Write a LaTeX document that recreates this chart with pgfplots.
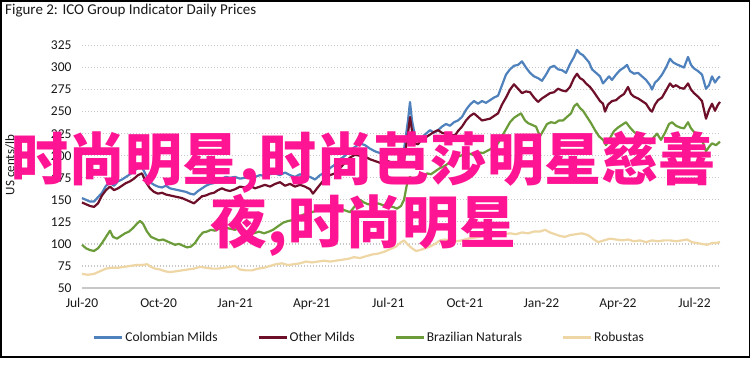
\documentclass[border=0pt]{standalone}
\usepackage{fontspec}
\setmainfont{Carlito}
\newfontfamily\cjk{Noto Sans CJK SC}
\usepackage{pgfplots}
\usepackage{pgfplotstable}
\pgfplotsset{compat=1.18}
\definecolor{cmild}{RGB}{79,129,189}
\definecolor{omild}{RGB}{110,15,42}
\definecolor{bnat}{RGB}{108,156,58}
\definecolor{rob}{RGB}{238,214,165}
\definecolor{wmpink}{RGB}{255,20,147}
\definecolor{gridc}{RGB}{200,200,200}
% t: time index (Jul-20 = 82, one quarter = 76.56), v: US cents/lb
\pgfplotstableread{
t v
82 152
86 150
90 148
94 148
98 153
102 158
106 166
110 169
114 166
118 171
122 173
126 176
130 179
134 183
138 186
142 187
146 178
150 170
154 167
158 165
162 164
166 166
170 163
174 162
178 161
182 160
186 159
190 157
194 156
198 160
202 163
206 166
210 168
214 169
218 172
222 174
226 176
230 175
235 176
240 174
245 175
250 177
255 176
260 178
265 177
270 179
275 180
280 178
285 181
290 178
295 176
300 179
305 177
310 176
315 173
320 178
325 181
330 186
335 190
340 196
345 200
350 206
355 210
360 214
365 212
370 208
375 205
380 203
385 206
390 204
395 203
400 205
404 207
408 240
410 261
412 240
415 222
418 218
422 221
426 225
430 229
434 226
438 229
442 233
446 236
450 234
454 238
458 240
462 244
466 252
470 258
474 262
478 259
482 262
486 260
490 263
494 266
498 268
502 280
506 292
510 298
514 302
518 303
522 307
526 300
530 294
534 290
538 288
542 285
546 292
550 300
554 302
558 298
562 297
566 294
570 304
574 312
577 320
580 316
583 314
586 310
589 306
592 298
596 294
600 290
603 282
606 286
609 290
612 286
616 292
620 297
624 300
627 303
630 296
634 293
638 294
642 290
646 286
650 280
652 275
655 283
658 286
662 292
666 300
670 310
673 306
676 304
680 302
684 300
688 312
691 303
694 299
698 296
702 292
706 276
709 280
712 290
715 283
718 288
720 290
}\colombian
\pgfplotstableread{
t v
82 147
86 145
90 143
94 142
98 146
102 155
106 161
110 165
114 161
118 163
122 166
126 169
130 171
134 174
138 178
142 180
146 170
150 163
154 159
158 157
162 158
166 156
170 155
174 154
178 153
182 152
186 150
190 148
194 146
198 150
202 154
206 155
210 157
214 158
218 161
222 163
226 161
230 160
235 162
240 165
245 164
250 166
255 163
260 165
265 167
270 165
275 168
280 170
285 166
290 168
295 165
300 167
305 165
310 162
313 157
317 163
322 170
326 176
330 178
335 180
340 186
345 192
350 198
355 201
360 200
365 199
370 196
375 194
380 192
385 195
390 193
395 191
400 193
404 195
408 225
410 244
412 228
415 214
418 213
422 219
426 221
430 224
434 227
438 229
442 226
446 225
450 224
455 223
458 228
462 233
466 240
470 245
474 248
478 244
482 240
486 241
490 242
494 245
498 248
502 258
506 266
510 275
514 281
518 276
522 271
526 273
530 272
534 266
538 261
542 265
546 268
550 271
554 272
558 276
562 274
566 273
570 278
574 288
577 293
580 288
583 286
586 282
590 278
594 272
597 267
600 262
603 259
605 250
608 258
612 262
616 263
620 267
624 270
628 278
631 270
634 267
638 265
642 262
646 259
650 252
652 250
655 258
658 263
662 266
666 274
670 282
673 278
676 280
680 277
684 276
688 282
691 275
694 271
698 267
702 262
706 242
709 252
712 259
715 251
718 258
720 261
}\othermilds
\pgfplotstableread{
t v
82 99
86 95
90 93
94 92
98 95
102 101
106 108
110 115
113 108
117 106
121 109
125 112
129 114
133 118
137 123
140 126
143 123
147 114
151 108
155 106
159 104
163 105
167 103
171 101
175 99
179 100
183 98
187 96
191 97
195 101
199 108
203 113
207 114
211 116
215 115
219 117
223 119
227 118
231 117
235 116
239 118
244 115
249 113
254 112
259 114
264 112
269 114
273 116
278 120
283 124
288 126
293 127
298 130
303 133
307 135
312 136
317 138
322 140
327 139
332 141
337 142
341 140
345 138
350 136
355 143
360 150
364 147
368 145
373 144
378 146
383 144
388 143
393 142
397 140
401 143
404 150
407 168
410 176
413 172
418 170
422 172
427 180
431 179
436 183
440 186
444 188
448 191
453 194
458 199
463 201
468 203
473 201
478 204
483 203
488 206
493 209
498 214
502 222
506 230
510 238
514 243
518 246
521 248
525 240
528 237
532 235
536 233
540 222
543 228
547 236
551 238
555 237
559 240
563 240
567 244
571 248
574 256
577 259
580 254
583 251
587 244
591 237
595 229
599 222
603 218
606 212
610 220
614 228
618 232
622 235
626 238
630 232
634 227
638 224
642 221
646 218
650 214
653 220
657 225
661 218
665 226
669 236
672 238
676 234
680 232
684 231
688 238
691 231
694 227
698 222
702 218
706 205
709 210
712 214
716 212
720 216
}\brazilian
\pgfplotstableread{
t v
82 66
88 65
94 66
100 69
106 72
112 73
118 73
124 74
130 75
136 76
142 76
147 77
151 74
155 72
160 71
165 69
170 68
176 69
182 70
188 71
194 72
200 74
206 73
212 72
218 72
224 73
230 74
235 75
240 71
246 70
252 70
258 72
264 73
270 75
276 77
282 78
288 76
294 77
300 78
306 80
312 79
318 80
324 81
330 80
336 81
342 82
348 83
354 85
360 84
366 86
372 88
378 89
384 91
390 94
396 97
400 101
404 104
408 99
412 95
416 92
420 93
425 95
430 97
435 100
440 104
445 105
450 104
456 103
462 104
468 106
474 107
480 108
486 110
492 112
498 110
504 111
510 112
516 111
522 113
528 112
534 114
540 114
545 116
550 113
555 111
560 109
565 108
570 110
576 111
582 112
588 110
594 105
598 102
604 104
610 106
616 105
622 104
628 105
634 103
640 104
646 102
652 104
658 103
664 104
670 104
676 103
682 104
687 105
692 102
697 101
702 100
707 99
712 101
716 101
720 102
}\robustas
\begin{document}
\begin{tikzpicture}[x=1pt,y=1pt]
\path[use as bounding box, fill=white] (0,0) rectangle (751,-370);
\draw[black, line width=1.5pt] (0.75,-0.75) rectangle (749.25,-357);
\node[anchor=west, font=\fontsize{15}{17}\selectfont, text=black!90, inner sep=0pt] at (5,-11) {Figure 2: ICO Group Indicator Daily Prices};
\coordinate (axpos) at (82,-288);
\begin{axis}[
  at={(axpos)}, anchor=south west,
  scale only axis, width=638pt, height=242.5pt,
  xmin=82, xmax=720, ymin=50, ymax=325,
  axis y line*=left, axis x line*=bottom,
  y axis line style={draw=none},
  x axis line style={draw=gridc, line width=1.3pt, -},
  ytick={50,75,...,325},
  xtick={82,158.56,235.12,311.68,388.24,464.8,541.36,617.92,694.48},
  xticklabels={Jul-20,Oct-20,Jan-21,Apr-21,Jul-21,Oct-21,Jan-22,Apr-22,Jul-22},
  major tick length=0pt,
  ymajorgrids,
  grid style={draw=gridc, line width=1.2pt, dash pattern=on 1.3pt off 1.7pt},
  /pgf/number format/assume math mode=true,
  tick label style={font=\fontsize{13.5}{15}\selectfont, text=black!90},
  yticklabel style={xshift=-7pt},
  xticklabel style={yshift=-7pt},
  ylabel={US cents/lb},
  ylabel style={at={(axis description cs:-0.1128,0.507)}, anchor=center, font=\fontsize{13}{15}\selectfont, text=black!90},
  clip=false,
  legend columns=4,
  legend style={at={(0.45,-0.206)}, anchor=center, draw=none, fill=none,
    font=\fontsize{13.5}{15}\selectfont, text=black!90,
    /tikz/every even column/.append style={column sep=38pt},
    nodes={inner sep=1.5pt}},
  legend image code/.code={\draw[#1, line width=3pt] (0pt,0pt) -- (28pt,0pt);},
  every axis plot/.append style={line width=2.2pt, line join=round},
]
\addplot[cmild] table[x=t, y=v] {\colombian};
\addlegendentry{Colombian Milds}
\addplot[omild] table[x=t, y=v] {\othermilds};
\addlegendentry{Other Milds}
\addplot[bnat] table[x=t, y=v] {\brazilian};
\addlegendentry{Brazilian Naturals}
\addplot[rob] table[x=t, y=v] {\robustas};
\addlegendentry{Robustas}
\end{axis}
\node[align=center, text=wmpink, inner sep=0pt, font=\cjk\bfseries\fontsize{57}{57}\selectfont] at (363.5,-193.5) {时尚明星,时尚芭莎明星慈善\\夜,时尚明星};
\end{tikzpicture}
\end{document}
